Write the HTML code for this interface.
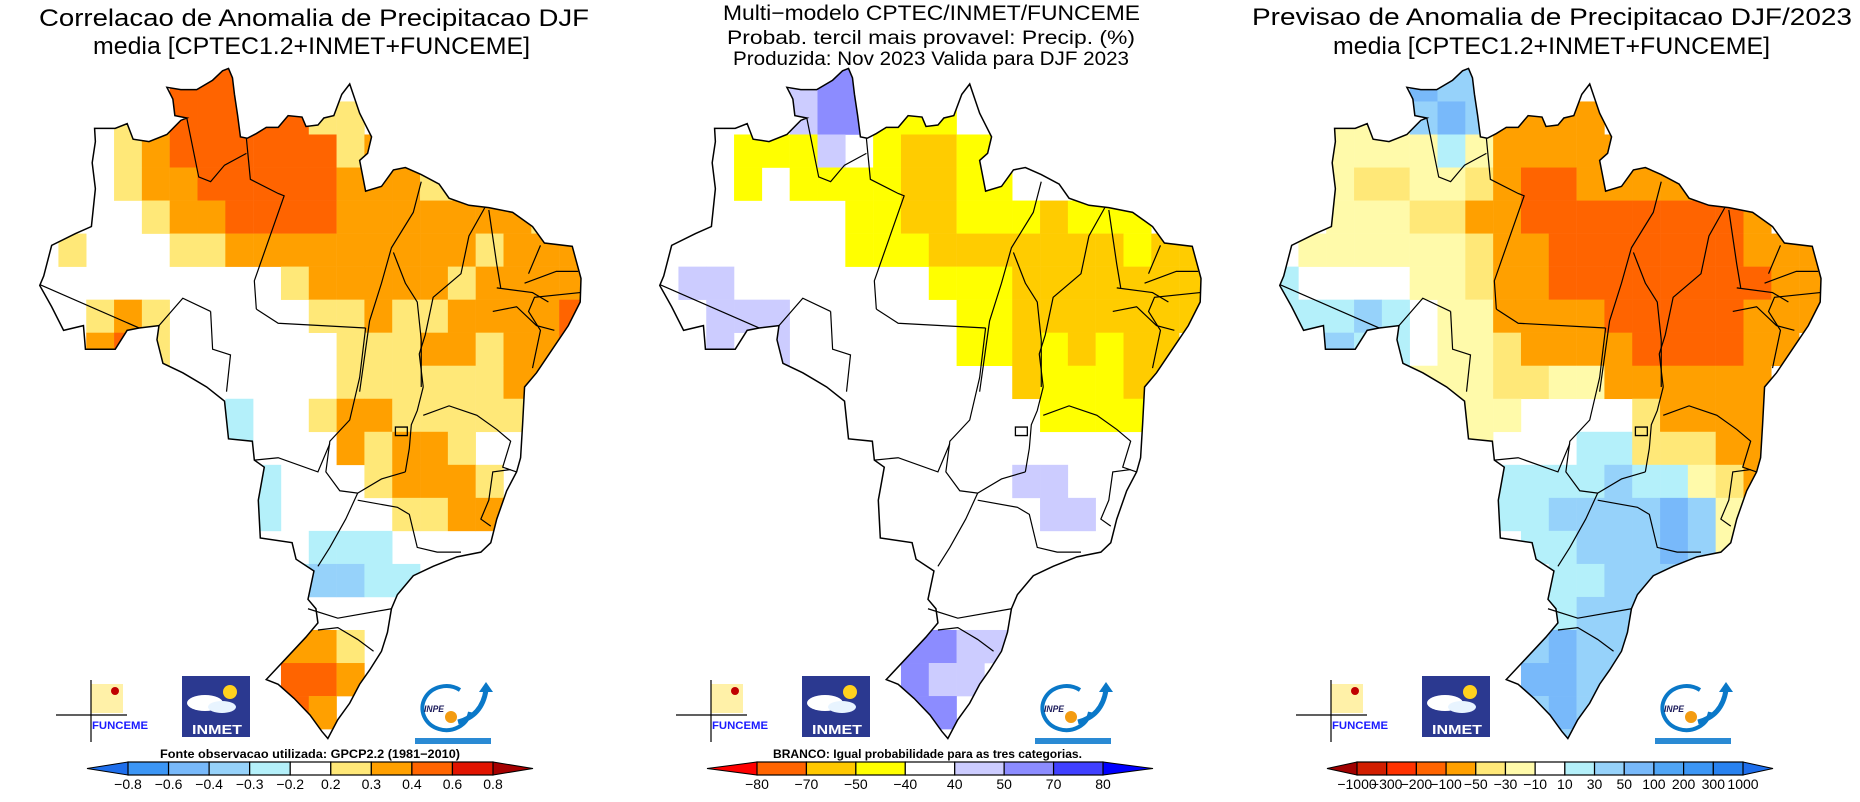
<!DOCTYPE html>
<html><head><meta charset="utf-8">
<style>
html,body{margin:0;padding:0;background:#fff;}
svg{display:block;font-family:"Liberation Sans",sans-serif;}
</style></head>
<body>
<svg id="root" width="1860" height="802" viewBox="0 0 1860 802" xmlns="http://www.w3.org/2000/svg">
<defs>
<clipPath id="brclip" clipPathUnits="userSpaceOnUse">
<polygon id="brpoly" points="575,145 585,165 590,200 598,245 605,290 622,293 645,283 670,270 700,270 725,245 760,248 770,268 800,265 815,250 840,245 860,200 880,178 905,240 920,265 935,290 925,325 905,340 920,405 960,395 990,360 1020,355 1060,370 1105,390 1130,420 1180,435 1230,440 1290,450 1340,480 1370,515 1440,522 1462,590 1460,640 1430,690 1390,740 1350,790 1320,820 1315,900 1310,970 1300,1000 1275,1040 1250,1100 1235,1150 1210,1170 1150,1180 1090,1200 1040,1220 1000,1260 985,1290 975,1340 960,1380 930,1420 905,1450 880,1490 850,1525 825,1565 810,1550 780,1515 740,1480 700,1450 670,1440 720,1395 770,1350 800,1320 795,1290 775,1270 790,1210 745,1185 735,1150 655,1140 650,1060 665,990 640,975 635,935 575,930 565,850 520,820 460,790 410,770 395,720 400,690 350,695 320,700 290,740 240,740 215,740 210,690 160,700 130,650 100,605 110,585 130,520 190,495 230,480 240,400 232,345 240,300 238,272 290,272 320,262 335,295 375,300 420,285 455,255 470,250 440,245 435,210 420,185 455,190 495,190 535,170 560,150"/>
</clipPath>
</defs>
</svg>
<script>
// ---- map grid data (rows of cells, 20 cols x 21 rows per panel) ----
const corrRows = [
"....." + "rrr............",
"...yorrrrryy........",
"...yorrrrrryo.......",
"...yoorrrrroooyy....",
"....yoorrrroooooooy..".slice(0,20),
".y...yyooooooooo"+"yooo",
".........yoooooyoooo",
"..yoy.....yyoyyoooor",
"..ory......yyyooyoor",
"...........yyyyyyoo.",
".......c..yooyyyyyy.",
".......c...oyooy....",
"........c...yoooy...",
"........c....yyoo...",
"..........ccc.......",
".........cllcc......",
"....................",
".........ooy........",
".........rro........",
".........ro.........",
"...................."
];
const probRows = [
".....pPP............",
".....pPPyyy.........",
"...yyyp.yggyy.......",
"...y.yyyyggyy.......",
".......yyggyyygyyy..",
".......yyygggggggygg",
".pp.......yyyggggggg",
"..ppp......yyggggggg",
"..p.p......yygygygg.",
".............gyyygg.",
"..............yyyy..",
"....................",
".............pp.....",
"..............pp....",
"....................",
"....................",
"....................",
".........PPpp.......",
".........Ppp........",
".........PP.........",
"...................."
];
const anomRows = [
".....bll............",
"..vvvlbloooo........",
"..vvvvcvooooo.......",
"..vyyvvyorrooooo....",
"..vvvyyoorrrrrrrro..",
".vvvvvvyoorrrrrrrooo",
"c....vvyoorrrrrrrroo",
"ccclc.vvoooorrrrrooo",
".llcc.vvyoooorrrroo.",
".....vvvyyvvoooooo..",
"......vvv....yoooo..",
".......v...ccyyyoo..",
"........cccclccvyo..",
"........ccllllblvy..",
".........cclllblv...",
"..........cclll.....",
"..........clll......",
".........lbll.......",
".........bbll.......",
".........lbl........",
"..........l........."
];
// colour keys
const corrColors = {'.':'#ffffff','c':'#b4f0fa','l':'#96d2fa','b':'#78b9fa','y':'#ffe878','o':'#ffa000','r':'#ff6400','R':'#e11400'};
const probColors = {'.':'#ffffff','p':'#ccccff','P':'#8c8cff','Q':'#4040ff','y':'#ffff00','g':'#ffcc00','o':'#ff6400'};
const anomColors = {'.':'#ffffff','c':'#b4f0fa','l':'#96d2fa','b':'#78b9fa','v':'#fffaaa','y':'#ffe878','o':'#ffa000','r':'#ff6400','R':'#ff3200'};

// ---- colorbar data ----
const corrTicks = ["-0.8","-0.6","-0.4","-0.3","-0.2","0.2","0.3","0.4","0.6","0.8"];
const corrBoxes = ["#3c96f5","#78b9fa","#96d2fa","#b4f0fa","#ffffff","#ffe878","#ffa000","#ff6400","#e11400"];
const probTicks = ["-80","-70","-50","-40","40","50","70","80"];
const probBoxes = ["#ff6400","#ffc800","#ffff00","#ffffff","#ccccff","#8c8cff","#4040ff"];
const anomTicks = ["-1000","-300","-200","-100","-50","-30","-10","10","30","50","100","200","300","1000"];
const anomBoxes = ["#d21e00","#ff3200","#ff6400","#ffa000","#ffe878","#fffaaa","#ffffff","#b4f0fa","#96d2fa","#78b9fa","#50a5f5","#3c96f5","#2882f0"];

const NS = "http://www.w3.org/2000/svg";
const root = document.getElementById('root');
function mk(tag, attrs, parent){
  const e = document.createElementNS(NS, tag);
  for (const k in attrs) e.setAttribute(k, attrs[k]);
  if (parent) parent.appendChild(e);
  return e;
}
// map frame: grid in "map units"
const GX0 = 77, GY0 = 145, CELL = 70, SX = 0.3974, SY = 0.4719;
const xScale = c => GX0 + c * CELL;
const yScale = r => GY0 + r * CELL;

const borders = [
 "620,293 630,380 700,410 715,415 640,595 645,655",
 "470,250 500,375 530,385 565,350 620,325",
 "100,603 350,695",
 "400,690 460,632 530,660",
 "530,660 535,740 580,752 570,830",
 "645,655 700,685 920,695",
 "1060,385 1040,450 985,525 960,600 930,680 910,800 905,830",
 "990,535 1020,600 1050,640 1060,720 1060,820",
 "1220,440 1180,500 1160,580 1090,630 1070,710 1055,750 1065,820",
 "1230,445 1250,560 1260,610",
 "920,695 905,800 880,890 830,935 820,1000 855,1040 900,1045 960,1015 1020,1000",
 "1065,820 1050,870 1035,900 1030,950 1020,1000",
 "900,1045 870,1100 830,1160 800,1200",
 "900,1060 1000,1075 1030,1090 1050,1160 1100,1170 1160,1170",
 "775,1290 850,1310 985,1290",
 "800,1335 850,1330 900,1355 940,1380",
 "1065,880 1130,860 1200,880 1250,910 1285,935 1265,990 1300,1000",
 "1285,995 1240,1000 1230,1060 1210,1100 1235,1115",
 "640,975 700,970 800,1000 830,940",
 "1340,780 1360,700 1330,660 1345,630 1460,620",
 "1250,610 1340,620 1380,640",
 "1240,660 1300,650 1350,690 1395,700",
 "1330,580 1360,520",
 "1320,600 1400,575 1455,575"
];

function buildMap(g, rows, colors, name){
  const mg = mk('g', {transform:'scale('+SX+','+SY+')'}, g);
  
  
  const cg = mk('g', {'clip-path':'url(#brclip)'}, mg);
  for (let r = 0; r < rows.length; r++){
    for (let c = 0; c < rows[r].length; c++){
      const ch = rows[r][c];
      if (ch === '.') continue;
      const rc = mk('rect', {x:xScale(c), y:yScale(r), width:CELL+0.6, height:CELL+0.6, fill:colors[ch]}, cg);
      
      
    }
  }
  for (const b of borders){
    const pl = mk('polyline', {points:b, fill:'none', stroke:'#000', 'stroke-width':1.2, 'vector-effect':'non-scaling-stroke'}, mg);
    
    
  }
  const dfb = mk('rect', {x:995, y:905, width:30, height:18, fill:'none', stroke:'#000','stroke-width':1.3,'vector-effect':'non-scaling-stroke'}, mg);
  
  
  const outline = mk('polygon', {points:document.getElementById('brpoly').getAttribute('points'), fill:'none', stroke:'#000', 'stroke-width':1.5, 'vector-effect':'non-scaling-stroke'}, mg);
  
  
}

function text(g, str, x0, x1, y, size, weight, fill){
  const t = mk('text', {x:x0, y:y, 'font-size':size, 'font-weight':weight||'normal', fill:fill||'#000', textLength:(x1-x0), lengthAdjust:'spacingAndGlyphs'}, g);
  t.textContent = str;
  return t;
}

function buildColorbar(g, ticks, boxes, b0, b1, leftArrow, rightArrow, name){
  const cb = mk('g', {}, g);
  
  
  const y0 = 762, y1 = 775, ym = 768.5;
  const w = (b1 - b0) / boxes.length;
  const la = mk('polygon', {points:`87,${ym} ${b0},${y0} ${b0},${y1}`, fill:leftArrow, stroke:'#000','stroke-width':1}, cb);
  
  
  const ra = mk('polygon', {points:`533,${ym} ${b1},${y0} ${b1},${y1}`, fill:rightArrow, stroke:'#000','stroke-width':1}, cb);
  
  
  boxes.forEach((col, i) => {
    const r = mk('rect', {x:b0 + i*w, y:y0, width:w, height:y1-y0, fill:col, stroke:'#000', 'stroke-width':1.2}, cb);
    
    
  });
  ticks.forEach((lab, i) => {
    const t = mk('text', {x:b0 + i*w, y:789, 'font-size':14, 'text-anchor':'middle', fill:'#000'}, cb);
    t.textContent = lab.replace('-', '\u2212');
    
    
  });
}

function buildLogos(g){
  const lg = mk('g', {}, g);
  
  
  // FUNCEME
  const f = mk('g', {}, lg);
  
  
  mk('rect', {x:91, y:684, width:32, height:29, fill:'#fff1a8'}, f);
  mk('line', {x1:56, y1:715, x2:127, y2:715, stroke:'#000', 'stroke-width':1.2}, f);
  mk('line', {x1:91, y1:680, x2:91, y2:742, stroke:'#000', 'stroke-width':1.2}, f);
  mk('circle', {cx:115, cy:691, r:4, fill:'#c00000'}, f);
  const ft = text(f, 'FUNCEME', 92, 148, 729, 11, 'bold', '#1a1aff');
  
  
  // INMET
  const im = mk('g', {}, lg);
  
  
  mk('rect', {x:182, y:676, width:68, height:61, fill:'#2b3990'}, im);
  mk('circle', {cx:230, cy:692, r:7, fill:'#ffd21e'}, im);
  mk('ellipse', {cx:205, cy:703, rx:18, ry:8, fill:'#ffffff'}, im);
  mk('ellipse', {cx:222, cy:707, rx:14, ry:6, fill:'#e8f4ff'}, im);
  const it = text(im, 'INMET', 192, 242, 734, 13, 'bold', '#ffffff');
  
  
  // INPE
  const ip = mk('g', {}, lg);
  
  
  mk('path', {d:'M 460 690 A 24 22 0 1 0 470 712', fill:'none', stroke:'#0a78c8', 'stroke-width':4}, ip);
  mk('path', {d:'M 458 722 Q 482 716 486 690', fill:'none', stroke:'#0a78c8', 'stroke-width':5}, ip);
  mk('polygon', {points:'479,692 486,682 493,692', fill:'#0a78c8'}, ip);
  mk('circle', {cx:451, cy:717, r:6, fill:'#f39c12'}, ip);
  const pt = text(ip, 'INPE', 424, 444, 712, 9, 'bold', '#1a1a5a');
  pt.setAttribute('font-style', 'italic');
  
  
  mk('rect', {x:415, y:738, width:76, height:6, fill:'#2a8ad4'}, ip);
}

const panels = [
  {name:'correlation-panel', rows:corrRows, colors:corrColors, ticks:corrTicks, boxes:corrBoxes, b0:128, b1:493, la:'#1e6eeb', ra:'#a50000',
   titles:[["Correlacao de Anomalia de Precipitacao DJF",39,589,26,24],["media [CPTEC1.2+INMET+FUNCEME]",93,530,54,24]],
   note:["Fonte observacao utilizada: GPCP2.2 (1981\u22122010)",160,460]},
  {name:'probability-panel', rows:probRows, colors:probColors, ticks:probTicks, boxes:probBoxes, b0:137, b1:483, la:'#ff0000', ra:'#0000ff',
   titles:[["Multi\u2212modelo CPTEC/INMET/FUNCEME",103,520,20,21],["Probab. tercil mais provavel: Precip. (%)",107,515,44,19],["Produzida: Nov 2023  Valida para DJF 2023",113,509,65,19]],
   note:["BRANCO: Igual probabilidade para as tres categorias.",153,462]},
  {name:'anomaly-panel', rows:anomRows, colors:anomColors, ticks:anomTicks, boxes:anomBoxes, b0:117, b1:503, la:'#a00000', ra:'#1e6eeb',
   titles:[["Previsao de Anomalia de Precipitacao DJF/2023",12,612,25,24],["media [CPTEC1.2+INMET+FUNCEME]",93,530,54,24]],
   note:null}
];

panels.forEach((p, i) => {
  const g = mk('g', {transform:'translate(' + (620*i) + ',0)'}, root);
  
  
  p.titles.forEach(t => {
    const te = text(g, t[0], t[1], t[2], t[3], t[4]);
    
    
  });
  buildMap(g, p.rows, p.colors, p.name);
  buildLogos(g);
  if (p.note){
    const n = text(g, p.note[0], p.note[1], p.note[2], 758, 12, 'bold');
    
    
  }
  buildColorbar(g, p.ticks, p.boxes, p.b0, p.b1, p.la, p.ra, p.name + '-colorbar');
});
</script>
</body></html>
